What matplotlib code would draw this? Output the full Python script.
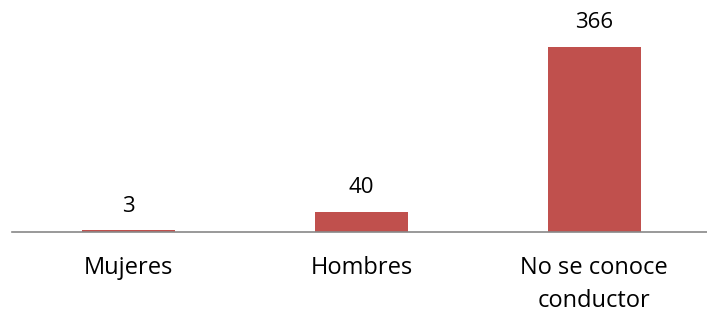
import matplotlib
matplotlib.use("Agg")
import matplotlib.pyplot as plt

categories = ["Mujeres", "Hombres", "No se conoce\nconductor"]
values = [3, 40, 366]

plt.rcParams['font.family'] = ['Open Sans', 'DejaVu Sans']

fig = plt.figure(figsize=(7.07, 3.12), dpi=100)
ax = fig.add_axes([12.5/707, 1 - 232/312, 698/707, 232/312])
x = list(range(len(categories)))
bars = ax.bar(x, values, width=0.4, color="#C0504D")
ax.set_xlim(-0.5, 2.5)
ax.set_ylim(0, 232/0.505)
for b, v in zip(bars, values):
    ax.annotate(str(v), (b.get_x() + b.get_width()/2, v), xytext=(0, 10),
                textcoords="offset points", ha="center", va="bottom",
                fontsize=16, color="black", annotation_clip=False)
for s in ["top", "right", "left"]:
    ax.spines[s].set_visible(False)
ax.spines["bottom"].set_color("#888888")
ax.spines["bottom"].set_linewidth(1.2)
ax.set_yticks([])
ax.set_xticks(x)
ax.set_xticklabels(categories, fontsize=17, linespacing=1.5)
ax.tick_params(axis="x", length=0, pad=17)
fig.savefig("out.png", dpi=100)
